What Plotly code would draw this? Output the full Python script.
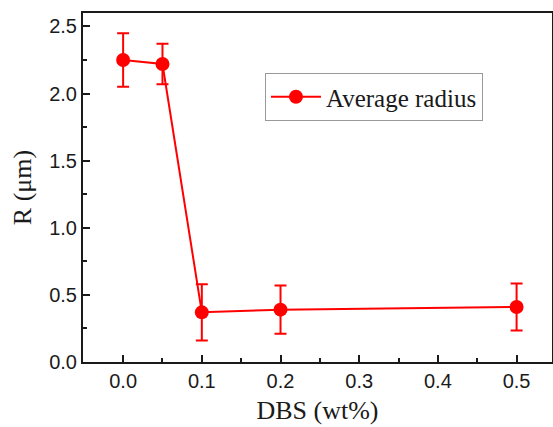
import plotly.graph_objects as go

dbs = [0.0, 0.05, 0.1, 0.2, 0.5]
radius = [2.25, 2.22, 0.37, 0.39, 0.41]
radius_err = [0.20, 0.15, 0.21, 0.18, 0.175]
series_name = "Average radius"
x_ticks = [0.0, 0.1, 0.2, 0.3, 0.4, 0.5]
y_ticks = [0.0, 0.5, 1.0, 1.5, 2.0, 2.5]

fig = go.Figure()
fig.add_trace(go.Scatter(
    x=dbs, y=radius, name=series_name, mode="lines+markers",
    line=dict(color="#ff0000", width=2),
    marker=dict(color="#ff0000", size=14, symbol="circle"),
    error_y=dict(type="data", array=radius_err, visible=True,
                 color="#ff0000", thickness=2, width=6),
))

W, H = 553, 427
ink = "#1a1a1a"
fig.update_layout(
    width=W, height=H,
    margin=dict(l=83, r=1, t=13, b=65),
    paper_bgcolor="white", plot_bgcolor="white",
    showlegend=True,
    legend=dict(x=0.388, y=0.828, xanchor="left", yanchor="top",
                bordercolor="#999999", borderwidth=1, bgcolor="white",
                font=dict(family="Liberation Serif", size=25, color=ink),
                itemwidth=50, tracegroupgap=0),
    font=dict(family="Liberation Sans", color=ink),
)
fig.update_xaxes(
    range=[-0.051, 0.545], tickvals=x_ticks,
    ticktext=[f"{v:.1f}" for v in x_ticks],
    ticks="inside", ticklen=7, tickwidth=1.5, tickcolor=ink,
    minor=dict(ticks="inside", ticklen=4, tickwidth=1.5, tickcolor=ink, dtick=0.05, tick0=0),
    showline=True, linecolor=ink, linewidth=2, mirror=True,
    showgrid=False, zeroline=False, automargin=False,
    tickfont=dict(family="Liberation Sans", size=20, color=ink),
    title=dict(text="DBS (wt%)", font=dict(family="Liberation Serif", size=26, color=ink), standoff=10),
)
fig.update_yaxes(
    range=[0.0, 2.6], tickvals=y_ticks,
    ticktext=[f"{v:.1f}" for v in y_ticks],
    ticks="inside", ticklen=7, tickwidth=1.5, tickcolor=ink,
    minor=dict(ticks="inside", ticklen=4, tickwidth=1.5, tickcolor=ink, dtick=0.25, tick0=0),
    showline=True, linecolor=ink, linewidth=2, mirror=True,
    showgrid=False, zeroline=False, automargin=False,
    tickfont=dict(family="Liberation Sans", size=20, color=ink),
    title=dict(text="R (μm)", font=dict(family="Liberation Serif", size=26, color=ink), standoff=10),
)

fig.write_html("out.html", config={"displayModeBar": False},
               post_script="document.body.style.margin='0';document.body.style.overflow='hidden';")
